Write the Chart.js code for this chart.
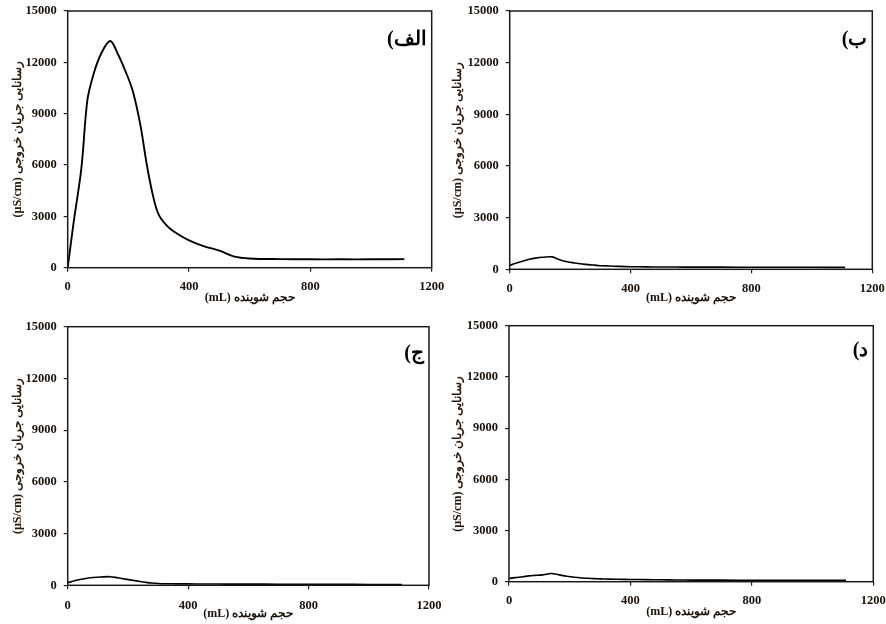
<!DOCTYPE html>
<html lang="fa">
<head>
<meta charset="utf-8">
<script src="https://cdn.jsdelivr.net/npm/chart.js@4.4.0/dist/chart.umd.min.js"></script>
<style>
  body { margin: 0; background: #fff; }
  #wrap { position: relative; width: 886px; height: 624px; overflow: hidden; background: #fff; }
  canvas { position: absolute; }
</style>
</head>
<body>
<div id="wrap">
  <canvas id="cA" width="452" height="312" style="left:0;top:0"></canvas>
  <canvas id="cB" width="443" height="312" style="left:443px;top:0"></canvas>
  <canvas id="cC" width="452" height="312" style="left:0;top:312px"></canvas>
  <canvas id="cD" width="443" height="312" style="left:443px;top:312px"></canvas>
</div>
<script>
// eluent volume (mL)
const volume = [0, 20, 45, 65, 85, 110, 140, 165, 190, 215, 240, 260, 280, 300, 330, 360, 400, 450, 500, 550, 600, 700, 800, 900, 1000, 1110];
// outlet conductivity (µS/cm)
const conductA = [0, 2700, 5800, 9800, 11300, 12500, 13250, 12500, 11500, 10300, 8300, 6100, 4300, 3100, 2400, 2000, 1600, 1250, 1000, 650, 540, 500, 490, 490, 490, 500];
const conductB = [230, 350, 480, 580, 650, 700, 720, 560, 440, 370, 310, 270, 240, 210, 190, 170, 150, 140, 135, 130, 128, 125, 120, 118, 115, 110];
const conductC = [150, 250, 350, 410, 450, 480, 500, 440, 360, 290, 220, 170, 130, 105, 90, 85, 80, 75, 72, 70, 68, 65, 60, 55, 50, 45];
const conductD = [190, 240, 290, 340, 370, 400, 480, 400, 320, 260, 220, 200, 180, 165, 150, 140, 130, 120, 110, 100, 95, 90, 85, 82, 80, 78];

const xTicks = [0, 400, 800, 1200];
const yTicks = [0, 3000, 6000, 9000, 12000, 15000];
const panelLabels = ["الف)", "ب)", "ج)", "د)"];
const xTitle = "(mL) حجم شوینده";
const yTitle = "(µS/cm) رسانایی جریان خروجی";

const textColor = "#1a120a";
const serif = '"Liberation Serif", "DejaVu Serif", serif';

// box round the plot + panel letter
const framePlugin = {
  id: "frame",
  afterDraw(chart, args, opts) {
    const { ctx, chartArea: a } = chart;
    ctx.save();
    ctx.strokeStyle = "#1a1a1a";
    ctx.lineWidth = 1.5;
    ctx.strokeRect(a.left, a.top, a.right - a.left, a.bottom - a.top);
    ctx.fillStyle = "#000";
    ctx.font = 'bold 20px ' + serif;
    ctx.direction = "rtl";
    ctx.textAlign = "right";
    ctx.textBaseline = "middle";
    ctx.fillText(opts.label, a.right - 5, a.top + opts.labelY);
    ctx.restore();
  }
};

function makeChart(id, values, label, g) {
  const lh = 12 * 1.2;
  return new Chart(document.getElementById(id), {
    type: "line",
    data: {
      datasets: [{
        data: volume.map((v, i) => ({ x: v, y: values[i] })),
        borderColor: "#000",
        borderWidth: g.lw,
        pointRadius: 0,
        tension: 0.35,
        fill: false
      }]
    },
    options: {
      responsive: false,
      animation: false,
      layout: { padding: { left: 0, top: g.t, right: g.w - g.r, bottom: 0 } },
      plugins: {
        legend: { display: false },
        tooltip: { enabled: false },
        frame: { label: label, labelY: g.labelY }
      },
      scales: {
        x: {
          type: "linear",
          min: xTicks[0],
          max: xTicks[xTicks.length - 1],
          afterFit: (s) => { s.height = g.h - g.b; s.paddingLeft = 0; s.paddingRight = 0; },
          ticks: {
            stepSize: xTicks[1] - xTicks[0],
            padding: g.xtp,
            color: textColor,
            font: { family: serif, size: 12.5, weight: "bold" },
            maxRotation: 0,
            callback: (v) => String(v)
          },
          grid: { drawOnChartArea: false, drawTicks: true, tickLength: 4, color: "#222", lineWidth: 1.2 },
          border: { display: false },
          title: {
            display: true,
            text: xTitle,
            color: textColor,
            font: { family: serif, size: 12, weight: "bold" },
            padding: { top: 0, bottom: g.h - g.xt - lh / 2 }
          }
        },
        y: {
          min: yTicks[0],
          max: yTicks[yTicks.length - 1],
          afterFit: (s) => { s.width = g.l; s.paddingTop = 0; s.paddingBottom = 0; },
          ticks: {
            stepSize: yTicks[1] - yTicks[0],
            padding: 7,
            color: textColor,
            font: { family: serif, size: 12.5, weight: "bold" },
            callback: (v) => String(v)
          },
          grid: { drawOnChartArea: false, drawTicks: true, tickLength: 4, color: "#222", lineWidth: 1.2 },
          border: { display: false },
          title: {
            display: true,
            text: yTitle,
            color: "#2a1a0e",
            font: { family: serif, size: 12, weight: "bold" },
            padding: { top: g.yt - lh / 2, bottom: 0 }
          }
        }
      }
    },
    plugins: [framePlugin]
  });
}

makeChart("cA", conductA, panelLabels[0], { w: 452, h: 312, l: 67.7, r: 431.7, t: 11, b: 267.7, yt: 18, xt: 298, xtp: 8, labelY: 29, lw: 1.9 });
makeChart("cB", conductB, panelLabels[1], { w: 443, h: 312, l: 66.7, r: 429.3, t: 11, b: 269.3, yt: 15, xt: 298, xtp: 8, labelY: 29, lw: 1.6 });
makeChart("cC", conductC, panelLabels[2], { w: 452, h: 312, l: 67.7, r: 429, t: 14.7, b: 273.3, yt: 18, xt: 302, xtp: 8.5, labelY: 27, lw: 1.6 });
makeChart("cD", conductD, panelLabels[3], { w: 443, h: 312, l: 66, r: 430.3, t: 13.7, b: 269.7, yt: 15, xt: 299.7, xtp: 7.5, labelY: 25, lw: 1.6 });
</script>
</body>
</html>
